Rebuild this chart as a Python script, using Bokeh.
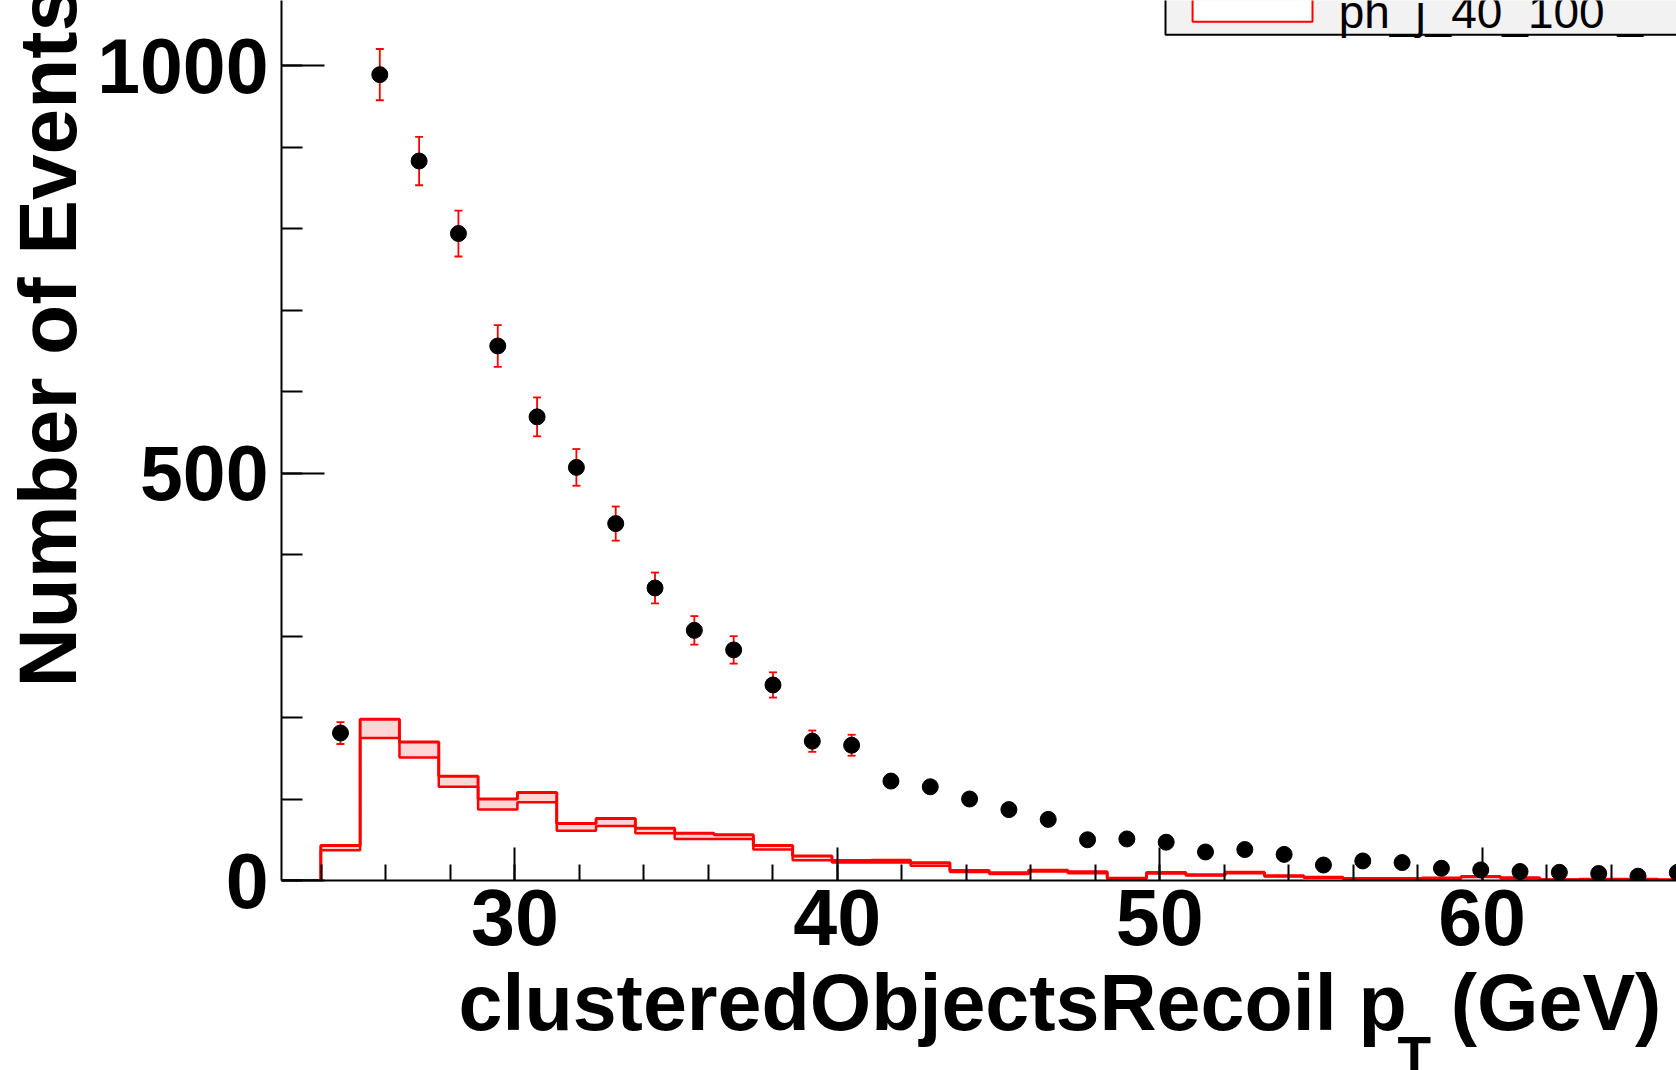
import numpy as np
from bokeh.plotting import figure
from bokeh.models import Range1d, SingleIntervalTicker, Title
from bokeh.embed import file_html
from bokeh.resources import INLINE
from bokeh.core.properties import value

# ---------------- data ----------------
bin_first_edge = 22.76
bin_width = 1.2196
n_bins = 36

# MC band (upper / lower edge of the shaded band), bins 0..35
mc_upper = [0, 43, 198, 170, 128, 100, 108, 70, 76, 64, 58, 56, 43, 30, 24.5, 25,
            21.7, 12.3, 9.4, 12.6, 10.7, 2.8, 9.8, 7.0, 10.2, 5.7, 4.0, 2.5, 2.5,
            3.0, 4.9, 3.3, 1.0, 1.6, 1.6, 0.8]
mc_lower = [0, 37, 175, 151, 115, 87, 96, 61, 67, 58, 51, 51, 38, 25, 22, 22,
            18, 10.5, 8.0, 11.0, 9.0, 1.8, 8.5, 6.0, 9.0, 5.0, 3.4, 2.0, 2.0,
            2.5, 4.2, 2.8, 0.8, 1.3, 1.3, 0.6]

# data points, bins 1..35
data_counts = [181, 989, 883, 794, 656, 569, 507, 438, 359, 307, 283, 240, 171, 166,
               122, 115, 100, 87, 75, 50, 51, 47, 35, 38, 32, 19, 24, 22, 15, 13,
               11, 10, 8.6, 5.3, 9.8]
n_with_visible_errors = 14

x_ticks_major = 10
y_ticks_major = 500
x_title = "clusteredObjectsRecoil p\u00a0\u00a0(GeV)"
x_title_sub = "T"
y_title = "Number of Events"
legend_label = "ph_j_40_100 _"

# ---------------- derived ----------------
edges = bin_first_edge + bin_width * np.arange(n_bins + 1)
centers = 0.5 * (edges[:-1] + edges[1:])
data_x = centers[1:1 + len(data_counts)]
data_y = np.array(data_counts, dtype=float)

W, H = 1676, 1070
RED = "#ff0000"
FONT = "Liberation Sans"

p = figure(width=W, height=H, output_backend="svg", toolbar_location=None,
           x_range=Range1d(22.76, 66.03), y_range=Range1d(0, 1080),
           min_border_left=281, min_border_right=0, min_border_top=0,
           min_border_bottom=190)
p.outline_line_color = None
p.xgrid.visible = False
p.ygrid.visible = False
p.background_fill_color = "white"
p.border_fill_color = "white"

# axes
p.xaxis.ticker = SingleIntervalTicker(interval=x_ticks_major, num_minor_ticks=5)
p.yaxis.ticker = SingleIntervalTicker(interval=y_ticks_major, num_minor_ticks=5)
for ax in (p.xaxis[0], p.yaxis[0]):
    ax.axis_line_width = 2
    ax.axis_line_color = "black"
    ax.major_tick_out = 0
    ax.minor_tick_out = 0
    ax.major_tick_line_width = 2
    ax.minor_tick_line_width = 2
    ax.major_tick_line_color = "black"
    ax.minor_tick_line_color = "black"
    ax.major_label_text_font = FONT
    ax.major_label_text_font_style = "bold"
    ax.major_label_text_color = "black"
p.xaxis.major_label_text_font_size = "79px"
p.yaxis.major_label_text_font_size = "77px"
p.xaxis.major_tick_in = 33
p.xaxis.minor_tick_in = 16
p.yaxis.major_tick_in = 43
p.yaxis.minor_tick_in = 21
p.xaxis.major_label_standoff = 9
p.yaxis.major_label_standoff = 13

# MC band + outlines
p.quad(left=edges[:-1], right=edges[1:], bottom=mc_lower, top=mc_upper,
       fill_color="#ffd6d6", line_color=None)
p.step(x=edges, y=list(mc_lower) + [mc_lower[-1]], mode="after",
       line_color=RED, line_width=2.5)
p.step(x=edges, y=list(mc_upper) + [mc_upper[-1]], mode="after",
       line_color=RED, line_width=3)

# data error bars (Poisson) and markers
ex = data_x[:n_with_visible_errors]
ey = data_y[:n_with_visible_errors]
ee = np.sqrt(ey)
p.segment(x0=ex, y0=ey - ee, x1=ex, y1=ey + ee, line_color=RED, line_width=1.8)
p.scatter(ex, ey + ee, marker="dash", size=8, line_color=RED, line_width=1.8)
p.scatter(ex, ey - ee, marker="dash", size=8, line_color=RED, line_width=1.8)
p.scatter(data_x, data_y, size=16, fill_color="black", line_color="black")

# legend (partially cropped at the top-right, as in the reference)
p.quad(left=[50.18], right=[80], bottom=[1038], top=[1300],
       fill_color="#f2f2f2", line_color="black", line_width=2)
p.quad(left=[51.02], right=[54.74], bottom=[1054], top=[1300],
       fill_color="white", line_color=RED, line_width=2)
p.text(x=[55.55], y=[1066.3], text=[legend_label], text_font=value(FONT),
       text_font_size="46px", text_color="black", text_align="left",
       text_baseline="alphabetic")

# axis titles as side-panel titles (not clipped by the frame)
p.add_layout(Title(text=y_title, align="left", vertical_align="top", offset=193,
                   standoff=0, text_font=FONT, text_font_style="bold",
                   text_font_size="82px", text_color="black"), "left")
p.add_layout(Title(text=x_title, align="left", offset=177, standoff=16,
                   text_font=FONT, text_font_style="bold", text_font_size="79px",
                   text_color="black"), "below")
p.add_layout(Title(text=x_title_sub, align="left", offset=1116, standoff=-63,
                   text_font=FONT, text_font_style="bold", text_font_size="55px",
                   text_color="black"), "below")

open("out.html", "w").write(file_html(p, INLINE))
